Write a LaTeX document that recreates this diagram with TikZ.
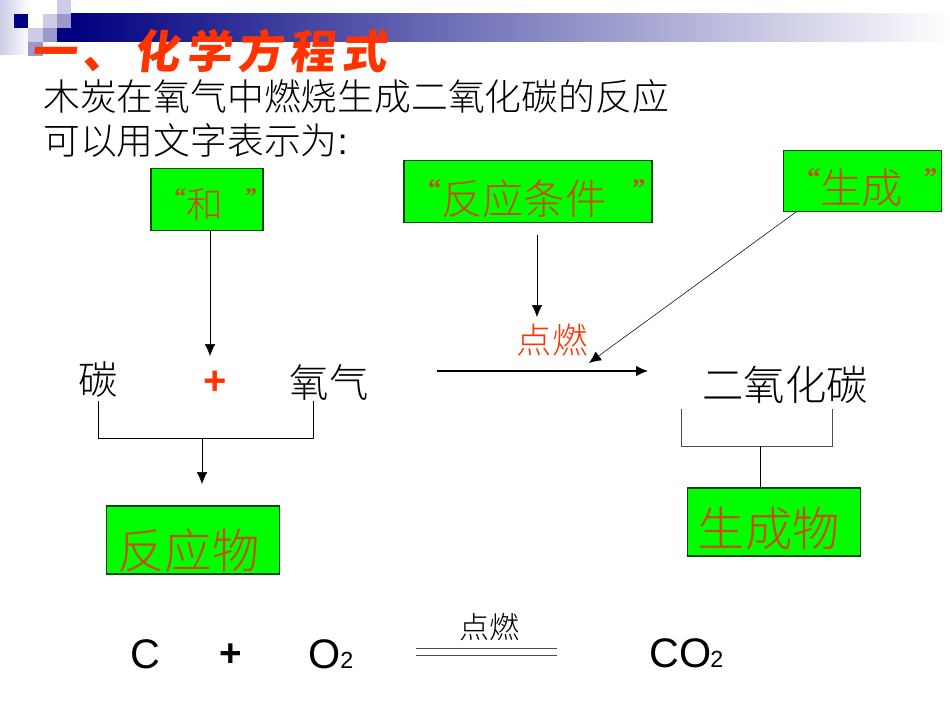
\documentclass[tikz,border=0pt]{standalone}
\usepackage{fontspec}
\setmainfont{Noto Sans CJK SC Light}
\newfontfamily\latsans{Liberation Sans}
\newfontfamily\latserif{Liberation Serif}
\newfontfamily\titlefont[LetterSpace=14,FakeSlant=0.12]{Noto Sans CJK SC}
\usepackage{tikz}
\usetikzlibrary{calc}
\usetikzlibrary{arrows.meta}
\tikzset{>={Latex[length=9pt,width=8pt]}}
\definecolor{navyblue}{HTML}{000080}
\definecolor{lightlav}{HTML}{CCCCE6}
\definecolor{midlav}{HTML}{9999CC}
\definecolor{titlered}{HTML}{FF3300}
\definecolor{boxgreen}{HTML}{00FF00}
\definecolor{boxtext}{HTML}{CC4A10}
% #1 shift of the text in the box, #2 gap before the closing quote, #3 drop, #4 text
\newcommand{\qmark}[1]{\raisebox{.4em}{\scalebox{.65}{\latserif\bfseries #1}}}
\newcommand{\qt}[4]{\raisebox{-#3}[0pt][0pt]{\makebox[0pt][c]{\hspace*{#1}\qmark{“}#4\hspace{#2}\qmark{”}}}}
\newcommand{\dropped}[3]{\raisebox{-#2}[0pt][0pt]{\makebox[0pt][c]{\hspace*{#1}#3}}}
\tikzset{
    box/.style={draw=black!70!green,fill=boxgreen,text=boxtext,line width=.8pt,anchor=center},
    word/.style={font=\fontsize{27.6}{27.6}\selectfont},
    big/.style={font=\fontsize{29.5}{29.5}\selectfont},
    formula/.style={font=\latsans\fontsize{31}{31}\selectfont},
    small2/.style={font=\latsans\fontsize{17.5}{17.5}\selectfont}
}
\begin{document}
\begin{tikzpicture}
                [x=.75pt,y=-.75pt,every node/.style={inner sep=0pt}]
                \useasboundingbox (0,0) rectangle (950,713);

                % banner
                \shade[left color=lightlav,right color=white] (0,0) rectangle (30,55);
                \shade[left color=navyblue,right color=white] (71,14) rectangle (950,42);
                \fill[navyblue] (14,14) rectangle (28,28);
                \fill[navyblue] (57,28) rectangle (71,42);
                \fill[lightlav] (57,0) rectangle (71,14);
                \fill[lightlav] (43,14) rectangle (57,28);
                \fill[midlav] (57,14) rectangle (71,28);
                \fill[lightlav] (28,28) rectangle (43,42);
                \fill[midlav] (43,28) rectangle (57,42);
                \fill[midlav] (28,42) rectangle (43,56);

                \node[anchor=west,text=titlered,font=\titlefont\bfseries\fontsize{34}{34}\selectfont] (title) at (31,51) {一、化学方程式};
                \node[anchor=west,word] (line1) at (43,97) {木炭在氧气中燃烧生成二氧化碳的反应};
                \node[anchor=west,word] (line2) at (43,141) {可以用文字表示为{\latsans :}};

                \node[box,minimum width=84pt,minimum height=46pt,font=\fontsize{27.5}{27.5}\selectfont] (bHe) at (207,199.5) {\qt{13pt}{.6em}{14.6pt}{和}};
                \node[box,minimum width=186pt,minimum height=46pt,font=\fontsize{31}{31}\selectfont] (bCond) at (528,191.5) {\qt{13pt}{.62em}{17pt}{反应条件}};
                \node[box,minimum width=118pt,minimum height=46pt,font=\fontsize{31}{31}\selectfont] (bGen) at (862.5,181) {\qt{14.5pt}{.5em}{16.6pt}{生成}};

                \node[big] (aC) at (98,380) {碳};
                \node[text=titlered,font=\latsans\bfseries\fontsize{30}{30}\selectfont] (aPlus) at (215,383) {+};
                \node[big] (aO) at (329,383) {氧气};
                \node[text=titlered,font=\fontsize{26.5}{26.5}\selectfont] (aFire) at (552,340) {点燃};
                \node[font=\fontsize{31}{31}\selectfont] (aCO) at (785,385) {二氧化碳};

                \node[box,minimum width=130pt,minimum height=51pt,font=\fontsize{35.5}{35.5}\selectfont] (bIn) at (193,540) {\dropped{-7pt}{21pt}{反应物}};
                \node[box,minimum width=130pt,minimum height=51pt,font=\fontsize{35.5}{35.5}\selectfont] (bOut) at (774,522) {\dropped{-8pt}{18pt}{生成物}};

                \coordinate (tHe) at (210,356);
                \coordinate (sCond) at (537,235);
                \coordinate (tCond) at (537,317);
                \coordinate (sGen) at (796,212);
                \coordinate (tGen) at (589,363);
                \coordinate (sMain) at (437,371);
                \coordinate (tMain) at (648,371);
                \coordinate (l0) at (98,401);
                \coordinate (l1) at (98,438);
                \coordinate (l2) at (313,438);
                \coordinate (l3) at (313,401);
                \coordinate (lm) at (202,438);
                \coordinate (lt) at (202,484);
                \coordinate (r0) at (681,409);
                \coordinate (r1) at (681,446);
                \coordinate (r2) at (832,446);
                \coordinate (r3) at (832,409);
                \coordinate (rm) at (760,446);

                \draw[->] (bHe.south -| tHe) -- (tHe);
                \draw[->] (sCond) -- (tCond);
                \draw[->] (sGen) -- (tGen);
                \draw[->,line width=.95pt] (sMain) -- (tMain);
                \draw (l0) -- (l1) -- (l2) -- (l3);
                \draw[->] (lm) -- (lt);
                \draw[black!70] (r0) -- (r1) -- (r2) -- (r3);
                \draw (rm) -- (rm |- bOut.north);

                \node[formula] (fC) at (145,654) {C};
                \node[formula,font=\latsans\bfseries\fontsize{29}{29}\selectfont] (fPlus) at (231,655) {+};
                \node[formula,anchor=base west] (fO) at (308,668) {O};
                \node[small2,anchor=base west] (fOtwo) at (340,668) {2};
                \node[font=\fontsize{22.5}{22.5}\selectfont] (fFire) at (489,627) {点燃};
                \coordinate (e0) at (416,648);
                \coordinate (e1) at (557,648);
                \coordinate (e2) at (416,655);
                \coordinate (e3) at (557,655);
                \draw[black!70] (e0) -- (e1);
                \draw[black!70] (e2) -- (e3);
                \node[formula,anchor=base west] (fCO) at (649,667) {CO};
                \node[small2,anchor=base west] (fCOtwo) at (710,667) {2};
            \end{tikzpicture}
\end{document}
